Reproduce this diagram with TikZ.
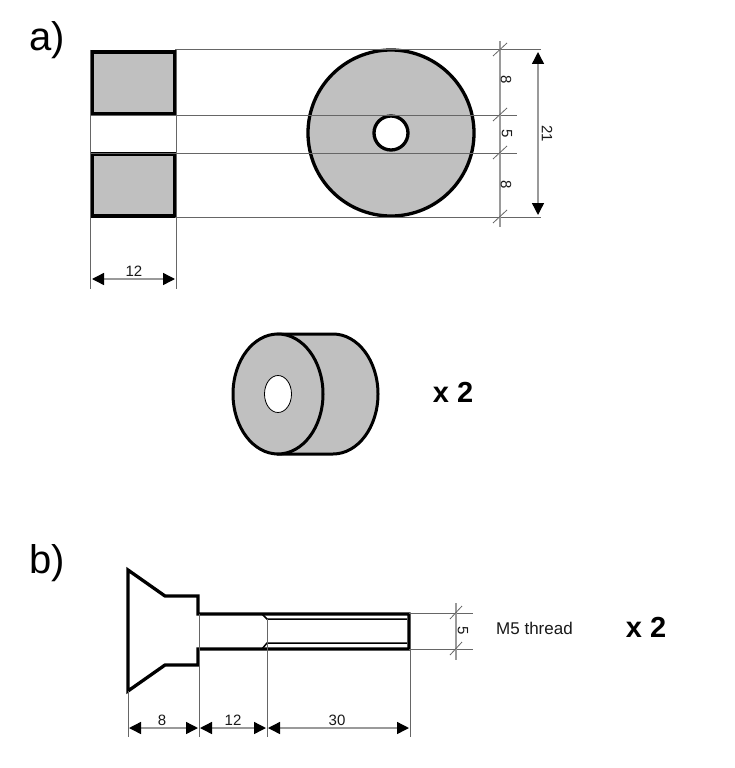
\documentclass[tikz,border=0pt]{standalone}
\usepackage{fontspec}
\setmainfont{Liberation Sans}
\usetikzlibrary{arrows.meta}
\definecolor{partgray}{HTML}{C0C0C0}
\definecolor{extline}{HTML}{666666}
\definecolor{dimline}{HTML}{9A9A9A}
\tikzset{
  partline/.style={draw=black,line width=3.3pt,line join=miter},
  solidpart/.style={partline,fill=partgray},
  thinline/.style={draw=extline,line width=1pt},
  dimarrow/.style={draw=dimline,line width=1.4pt,{Triangle[length=12pt,width=12pt,color=black]}-{Triangle[length=12pt,width=12pt,color=black]}},
  dimaxis/.style={draw=dimline,line width=1.4pt},
  tick/.style={draw=extline,line width=.8pt},
  dimtext/.style={font=\fontsize{15}{15}\selectfont,inner sep=0pt,text=black!90},
  sidetext/.style={dimtext,rotate=-90},
  headtext/.style={font=\fontsize{40}{40}\selectfont,inner sep=0pt},
  counttext/.style={font=\bfseries\fontsize{29}{29}\selectfont,inner sep=0pt}
}
\begin{document}
\begin{tikzpicture}[x=1pt,y=-1pt]
\useasboundingbox (0,0) rectangle (734,768);
\fill[white] (0,0) rectangle (734,768);

% labels
\node[headtext] (la) at (47,40) {a)};
\node[headtext] (lb) at (47,563) {b)};

% part a, section and front view
\draw[solidpart] (92,52) rectangle (175,114);
\draw[solidpart] (92,154) rectangle (175,216);
\draw[solidpart] (391,133) circle (83);
\draw[partline,fill=white] (391,133) circle (17);

% extension lines, part a
\coordinate (t0) at (175,50);   \coordinate (t1) at (541,50);
\coordinate (u0) at (90,115);   \coordinate (u1) at (517,115);
\coordinate (v0) at (90,153);   \coordinate (v1) at (517,153);
\coordinate (w0) at (175,217);  \coordinate (w1) at (541,217);
\draw[thinline] (t0) -- (t1);
\draw[thinline] (u0) -- (u1);
\draw[thinline] (v0) -- (v1);
\draw[thinline] (w0) -- (w1);
\coordinate (a0) at (90,50);   \coordinate (a1) at (90,289);
\coordinate (b0) at (176,50);  \coordinate (b1) at (176,289);
\draw[thinline] (a0) -- (a1);
\draw[thinline] (b0) -- (b1);
\draw[dimarrow] (92,279) -- (175,279);
\node[dimtext] (d12) at (134,271) {12};

\coordinate (s0) at (500,41);  \coordinate (s1) at (500,227);
\draw[dimaxis] (s0) -- (s1);
\foreach \yy in {50,115,153,217} \draw[tick] (493,\yy+6) -- (507,\yy-7);
\draw[dimarrow] (538,52) -- (538,215);
\node[sidetext] (d8a) at (506,80) {8};
\node[sidetext] (d5a) at (507,134) {5};
\node[sidetext] (d8b) at (506,185) {8};
\node[sidetext] (d21) at (547,134) {21};

% perspective view
\draw[solidpart,line width=3pt] (278,334) -- (333,334)
  .. controls (357.9,334) and (378,360.9) .. (378,394)
  .. controls (378,427.1) and (357.9,454) .. (333,454) -- (278,454) -- cycle;
\draw[solidpart,line width=3pt] (278,394) ellipse [x radius=45,y radius=60];
\draw[draw=black,line width=.8pt,fill=white] (278,394) ellipse [x radius=13.5,y radius=18.5];
\node[counttext] (x2a) at (453,392) {x 2};

% part b, screw
\draw[partline] (128,570) -- (165,596) -- (198,596) -- (198,614) -- (409,614) -- (409,649) -- (198,649) -- (198,665) -- (165,665) -- (128,691) -- cycle;
\draw[draw=black,line width=1.5pt] (262,614) -- (267,619) -- (407,619);
\draw[draw=black,line width=1.5pt] (262,649) -- (267,643) -- (407,643);

\coordinate (c0) at (128,691);  \coordinate (c1) at (128,737);
\coordinate (e0) at (199,614);  \coordinate (e1) at (199,737);
\coordinate (f0) at (267,619);  \coordinate (f1) at (267,737);
\coordinate (g0) at (410,649);  \coordinate (g1) at (410,737);
\draw[thinline] (c0) -- (c1);
\draw[thinline] (e0) -- (e1);
\draw[thinline] (f0) -- (f1);
\draw[thinline] (g0) -- (g1);
\draw[dimarrow] (129,728) -- (198,728);
\draw[dimarrow] (200,728) -- (266,728);
\draw[dimarrow] (268,728) -- (409,728);
\node[dimtext] (d8) at (162,720) {8};
\node[dimtext] (d12b) at (233,720) {12};
\node[dimtext] (d30) at (337,720) {30};

\coordinate (h0) at (409,613);  \coordinate (h1) at (473,613);
\coordinate (i0) at (409,649);  \coordinate (i1) at (473,649);
\draw[thinline] (h0) -- (h1);
\draw[thinline] (i0) -- (i1);
\coordinate (j0) at (456,603);  \coordinate (j1) at (456,660);
\draw[dimaxis] (j0) -- (j1);
\foreach \yy in {613,649} \draw[tick] (450,\yy+6) -- (462,\yy-7);
\node[sidetext] (d5b) at (463,631) {5};

\node[dimtext,font=\fontsize{17}{17}\selectfont] (m5) at (534.5,628) {M5 thread};
\node[counttext] (x2b) at (646,627) {x 2};
\end{tikzpicture}
\end{document}
